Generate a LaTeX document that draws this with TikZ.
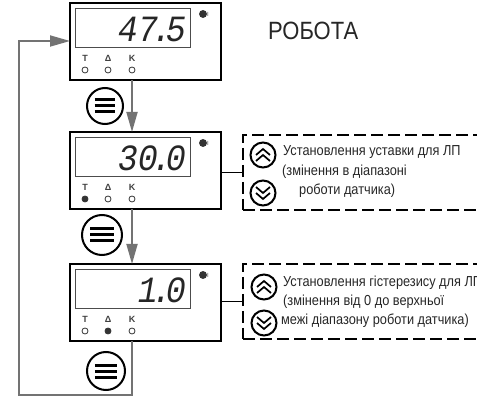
\documentclass[tikz,border=0pt]{standalone}
\usepackage{fontspec}
\usepackage{xcolor}
\usepackage{tikz}
\usetikzlibrary{arrows.meta, calc}
\setmainfont{Liberation Sans}
\newfontfamily\narrowfont[FakeStretch=0.88]{Liberation Sans}
\newfontfamily\ledfont[FakeStretch=0.9]{Liberation Mono}

\begin{document}
\begin{tikzpicture}[
    x=1pt, y=-1pt,
    panel/.style={rectangle, draw, line width=2pt, outer sep=0pt, minimum width=151pt, minimum height=77pt},
    display/.style={rectangle, draw=black!70, line width=1pt, outer sep=0pt, minimum width=115pt, minimum height=39pt, anchor=north west},
    digits/.style={anchor=east, inner sep=0pt, font=\ledfont\itshape\fontsize{37}{37}\selectfont, text=black!85},
    ledon/.style={circle, draw=black!80, fill=black!80, line width=0.8pt, inner sep=0pt, minimum size=6pt},
    ledoff/.style={circle, draw=black!80, fill=white, line width=0.8pt, inner sep=0pt, minimum size=6pt},
    ledname/.style={inner sep=0pt, font=\bfseries\fontsize{9}{9}\selectfont, text=black!75},
    notebox/.style={rectangle, draw, dash pattern=on 12pt off 5pt, line width=1.7pt, outer sep=0pt, minimum width=262pt, anchor=north west},
    note/.style={anchor=west, inner sep=0pt, font=\narrowfont\fontsize{14.5}{14.5}\selectfont, text=black!85},
    arrow/.style={-{Triangle[length=20pt, width=11pt]}, draw=black!55, line width=1.8pt},
    roundbtn/.style={circle, draw, line width=2pt, inner sep=0pt, outer sep=0pt},
    bars/.style={line width=3pt},
    chevron/.style={line width=1.7pt}
]
\useasboundingbox (0,0) rectangle (477,398);

% panels
\foreach \n/\y/\val/\ta/\tb in {
    A/3/{47\kern-6pt.\kern-6pt 5}/ledoff/ledoff,
    B/132/{30\kern-6pt.\kern-6pt 0}/ledon/ledoff,
    C/264/{1\kern-6pt.\kern-6pt 0}/ledoff/ledon}{
  \node[panel, anchor=north west] (panel\n) at (70,\y) {};
  \node[display] (display\n) at (75,\y+6) {};
  \node[digits] (digits\n) at ($(display\n.east)+(-4,1)$) {\val};
  \node[ledon, minimum size=7pt] (power\n) at (203,\y+11) {};
  \node[anchor=west, inner sep=0pt, font=\fontsize{6}{6}\selectfont, text=black!70] (powername\n) at (207,\y+11) {I};
  \node[ledname] (nameT\n) at (85,\y+55) {T};
  \node[ledname] (nameD\n) at (108,\y+55) {Δ};
  \node[ledname] (nameK\n) at (132,\y+55) {K};
  \node[\ta] (ledT\n) at (85,\y+67) {};
  \node[\tb] (ledD\n) at (108,\y+67) {};
  \node[ledoff] (ledK\n) at (132,\y+67) {};
}

% menu buttons
\foreach \n/\cx/\cy/\r in {A/105/106/18, B/102/235/20, C/106/371/19}{
  \node[roundbtn, minimum size=2*\r pt] (menu\n) at (\cx,\cy) {};
  \foreach \d in {-6,0,6}
    \draw[bars] ($(menu\n)+(-\r*0.58,\d)$) -- ($(menu\n)+(\r*0.58,\d)$);
}

% connectors
\coordinate (corner1) at (ledKC |- 0,395);
\coordinate (corner2) at (19,395);
\coordinate (corner3) at (19,41);
\draw[arrow] (panelA.south -| ledKA) -- (panelB.north -| ledKA);
\draw[arrow] (panelB.south -| ledKB) -- (panelC.north -| ledKB);
\draw[arrow] (panelC.south -| ledKC) -- (corner1) -- (corner2) -- (corner3) -- (panelA.west |- corner3);

% title
\node[anchor=west, inner sep=0pt, font=\narrowfont\fontsize{25}{25}\selectfont, text=black!85] (title) at (268,31) {РОБОТА};

% notes
\node[notebox, minimum height=75pt] (noteB) at (243,135) {};
\node[notebox, minimum height=75pt] (noteC) at (243,264) {};
\draw[line width=1.2pt] (noteB.west -| panelB.east) -- (noteB.west);
\draw[line width=1.2pt] (noteC.west -| panelC.east) -- (noteC.west);

\foreach \n/\cx/\cya/\cyb in {B/263/155/193, C/264/287/323}{
  \node[roundbtn, minimum size=25pt] (up\n) at (\cx,\cya) {};
  \node[roundbtn, minimum size=25pt] (down\n) at (\cx,\cyb) {};
  \foreach \d in {-3,3}{
    \draw[chevron] ($(up\n)+(-7,\d+3)$) -- ($(up\n)+(0,\d-3)$) -- ($(up\n)+(7,\d+3)$);
    \draw[chevron] ($(down\n)+(-7,\d-3)$) -- ($(down\n)+(0,\d+3)$) -- ($(down\n)+(7,\d-3)$);
  }
}

\node[note] (textB1) at (283,152) {Установлення уставки для ЛП};
\node[note] (textB2) at (282,172) {(змінення в діапазоні};
\node[note] (textB3) at (299,191) {роботи датчика)};
\node[note] (textC1) at (283,283) {Установлення гістерезису для ЛП};
\node[note] (textC2) at (283,302) {(змінення від 0 до верхньої};
\node[note] (textC3) at (281,321) {межі діапазону роботи датчика)};

\end{tikzpicture}
\end{document}
